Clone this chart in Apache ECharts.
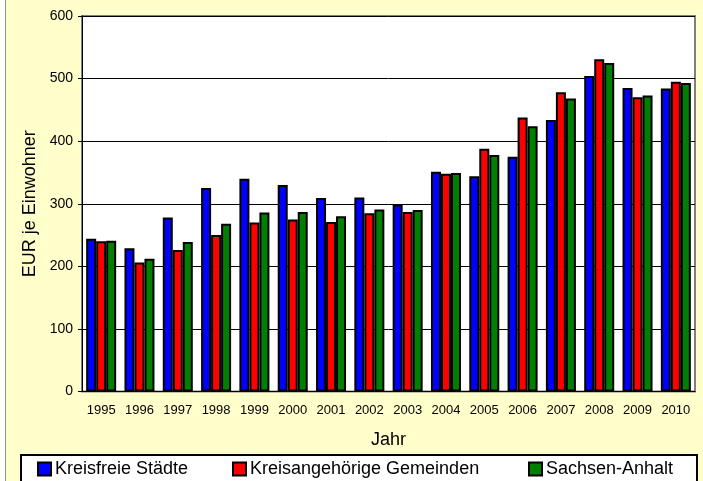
<!DOCTYPE html>
<html>
<head>
<meta charset="utf-8">
<script src="https://cdn.jsdelivr.net/npm/echarts@6/dist/echarts.min.js"></script>
<style>
  html, body { margin: 0; padding: 0; background: #fff; }
  #chart { width: 703px; height: 481px; }
</style>
</head>
<body>
<div id="chart"></div>
<script>
var years = ['1995', '1996', '1997', '1998', '1999', '2000', '2001', '2002',
             '2003', '2004', '2005', '2006', '2007', '2008', '2009', '2010'];
var kreisfreie = [244, 229, 278, 325, 340, 330, 309, 310, 299, 351, 344, 375, 434, 504, 485, 484];
var kreisangehoerige = [240, 206, 226, 250, 270, 275, 271, 285, 287, 348, 388, 438, 478, 531, 470, 495];
var sachsenAnhalt = [241, 212, 239, 268, 286, 287, 280, 291, 290, 349, 378, 424, 468, 525, 473, 493];

var font = '"Liberation Sans", Arial, sans-serif';
var chart = echarts.init(document.getElementById('chart'));

function barSeries(name, color, data) {
  return {
    name: name,
    type: 'bar',
    data: data,
    barWidth: 10,
    barGap: '0%',
    itemStyle: { color: color, borderColor: '#000', borderWidth: 2 },
    emphasis: { disabled: true }
  };
}

function legendAt(name, left) {
  return {
    data: [name],
    left: left,
    top: 460,
    padding: 0,
    itemWidth: 13,
    itemHeight: 13,
    itemGap: 0,
    icon: 'rect',
    textStyle: { fontFamily: font, fontSize: 18, color: '#000', padding: [0, 0, 0, -1] }
  };
}

var option = {
  backgroundColor: '#FFFFCC',
  animation: false,
  textStyle: { fontFamily: font },
  graphic: [
    // white strip + grey frame on the left
    { type: 'rect', z: 1, shape: { x: 0, y: 0, width: 5, height: 481 }, style: { fill: '#fff' } },
    { type: 'line', z: 1, shape: { x1: 5.5, y1: 0, x2: 5.5, y2: 481 }, style: { stroke: '#909090', lineWidth: 1 } },
    // legend box
    { type: 'rect', z: 1, shape: { x: 21, y: 455, width: 676, height: 40 },
      style: { fill: '#fff', stroke: '#000', lineWidth: 2 } }
  ],
  grid: {
    left: 82, right: 8, top: 16, bottom: 89.5,
    show: true, backgroundColor: '#fff', borderColor: '#808080', borderWidth: 2
  },
  legend: [
    legendAt('Kreisfreie Städte', 37),
    legendAt('Kreisangehörige Gemeinden', 232),
    legendAt('Sachsen-Anhalt', 528)
  ],
  xAxis: {
    type: 'category',
    data: years,
    name: 'Jahr',
    nameLocation: 'middle',
    nameGap: 40,
    nameTextStyle: { fontSize: 18, color: '#000' },
    axisLine: { lineStyle: { color: '#000', width: 1 } },
    axisTick: { length: 4, lineStyle: { color: '#000' } },
    axisLabel: { interval: 0, fontSize: 13, color: '#000', margin: 12 }
  },
  yAxis: {
    type: 'value',
    min: 0,
    max: 600,
    interval: 100,
    name: 'EUR je Einwohner',
    nameLocation: 'middle',
    nameRotate: 90,
    nameGap: 43,
    nameTextStyle: { fontSize: 18, color: '#000' },
    axisLine: { show: true, lineStyle: { color: '#000', width: 1 } },
    axisTick: { show: true, length: 4, lineStyle: { color: '#000' } },
    axisLabel: { fontSize: 14, color: '#000', margin: 9 },
    splitLine: { lineStyle: { color: '#000', width: 1 } }
  },
  series: [
    barSeries('Kreisfreie Städte', '#0000FF', kreisfreie),
    barSeries('Kreisangehörige Gemeinden', '#FF0000', kreisangehoerige),
    barSeries('Sachsen-Anhalt', '#008000', sachsenAnhalt)
  ]
};
chart.setOption(option);
</script>
</body>
</html>
